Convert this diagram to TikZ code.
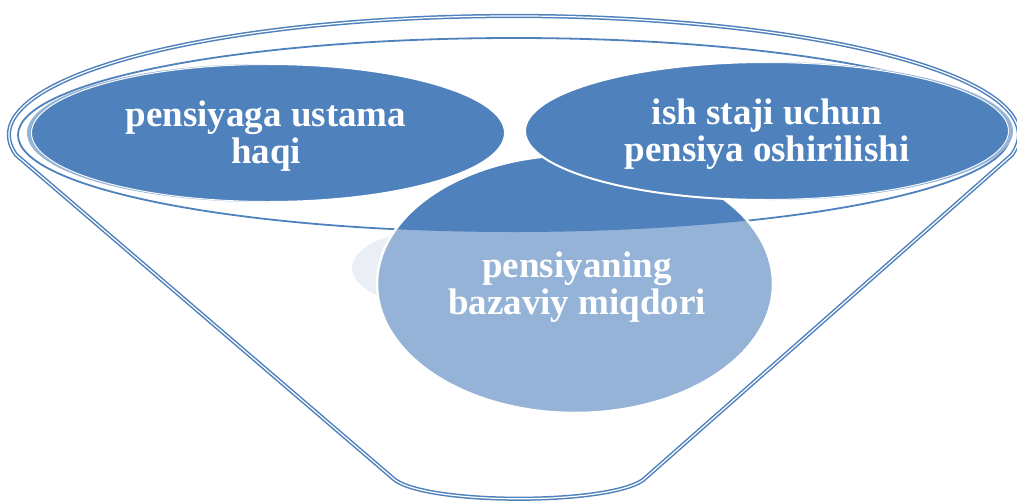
\documentclass[tikz,border=0pt]{standalone}
\usepackage{fontspec}
\setmainfont{Liberation Serif}
\definecolor{fdark}{HTML}{4F81BD}
\definecolor{flight}{HTML}{95B3D7}
\definecolor{fglow}{HTML}{EAEFF6}
\tikzset{
  rimline/.style={draw=fdark, line width=1.5pt, double=white, double distance=1.2pt, line join=round},
  mouthline/.style={draw=fdark, line width=1.8pt},
  toptext/.style={text=white, font=\fontsize{37}{37}\selectfont\bfseries, align=center, inner sep=0pt},
}
\begin{document}
\begin{tikzpicture}[x=1pt,y=-1pt]
\useasboundingbox (0,0) rectangle (1017,501);
% funnel body: rim top, sloped sides, rounded bottom
\coordinate (lc) at (16.2,155);
\coordinate (rc) at (1011.8,155);
\coordinate (bl) at (395,480);
\coordinate (br) at (643,480);
\draw[rimline] (lc) arc[start angle=170.3, end angle=369.7, x radius=505, y radius=119]
  -- (br) .. controls (608,505) and (430,505) .. (bl) -- cycle;
% mouth of the funnel
\draw[mouthline] (514,135) ellipse [x radius=496, y radius=97];
% soft reflection beside the bowl
\fill[fglow] (430,268) ellipse [x radius=78, y radius=37];
% bowl: light below the mouth, dark inside it
\fill[flight] (575,284) ellipse [x radius=198, y radius=129];
\begin{scope}
  \clip (514,135) ellipse [x radius=496, y radius=97];
  \fill[fdark] (575,284) ellipse [x radius=198, y radius=129];
\end{scope}
\draw[white, line width=2.5pt] (575,284) ellipse [x radius=198, y radius=129];
\node[toptext] (base) at (577,287) {pensiyaning\\bazaviy miqdori};
% left item
\path[fill=fdark, draw=white, line width=2pt] (268,133) ellipse [x radius=237, y radius=69];
\begin{scope}
  \clip (0,0) rectangle (268,501);
  \fill[flight, even odd rule] (264,133) ellipse [x radius=237, y radius=69]
    (268,133) ellipse [x radius=237, y radius=69];
\end{scope}
\node[toptext] (bonus) at (266,136) {pensiyaga ustama\\haqi};
% right item
\path[fill=fdark, draw=white, line width=2pt] (767,131) ellipse [x radius=242, y radius=69];
\begin{scope}
  \clip (767,0) rectangle (1017,501);
  \fill[flight, even odd rule] (771,131) ellipse [x radius=242, y radius=69]
    (767,131) ellipse [x radius=242, y radius=69];
\end{scope}
\node[toptext] (raise) at (767,134) {ish staji uchun\\pensiya oshirilishi};
\end{tikzpicture}
\end{document}
